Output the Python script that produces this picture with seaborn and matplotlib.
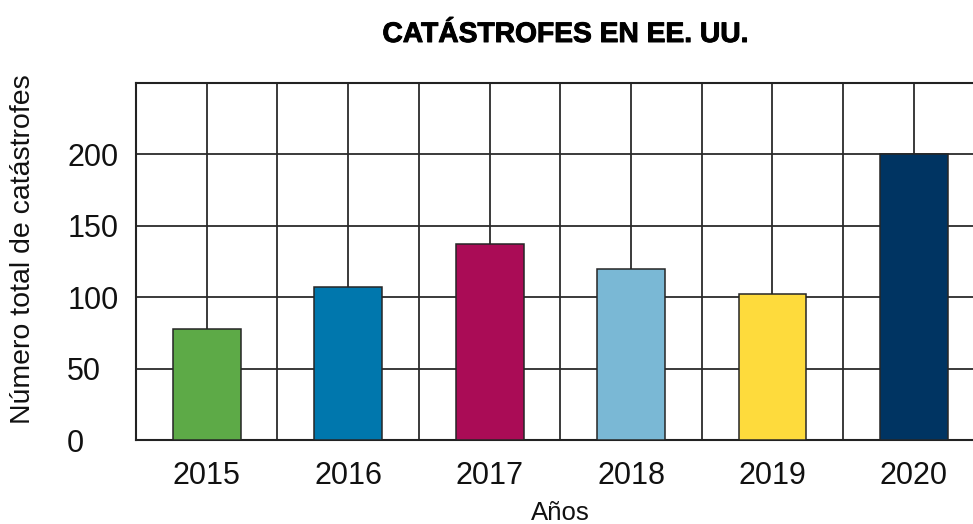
import matplotlib
matplotlib.use("Agg")
import matplotlib.pyplot as plt
import matplotlib.patheffects as pe
from matplotlib.ticker import MultipleLocator
import seaborn as sns
import pandas as pd

# Data
years = ["2015", "2016", "2017", "2018", "2019", "2020"]
disasters = [78, 107, 137, 120, 102, 200]
bar_colors = ["#5DAA47", "#0077AD", "#AA0C56", "#7AB8D5", "#FEDB3C", "#003462"]
y_ticks = [0, 50, 100, 150, 200]

title = "CATÁSTROFES EN EE. UU."
x_label = "Años"
y_label = "Número total de catástrofes"

df = pd.DataFrame({"year": years, "count": disasters})

sns.set_theme(style="white")
plt.rcParams["font.family"] = ["Liberation Sans", "DejaVu Sans"]

fig = plt.figure(figsize=(9.73, 5.24), dpi=100)
W, H = 973, 524
left, right_px = 136, 984.6
top, bottom = 82.7, 440.3
ax_w, ax_h = right_px - left, bottom - top
ax = fig.add_axes([left / W, 1 - bottom / H, ax_w / W, ax_h / H])

sns.barplot(data=df, x="year", y="count", hue="year", palette=bar_colors,
            saturation=1, width=0.48, edgecolor="#262626", linewidth=1.1,
            legend=False, ax=ax, zorder=3)

ax.set_xlim(-0.5, 5.5)
ax.set_ylim(0, 250)
ax.set_yticks(y_ticks)
ax.yaxis.set_minor_locator(MultipleLocator(50))
ax.xaxis.set_minor_locator(MultipleLocator(0.5))
ax.grid(True, which="both", color="#2b2b2b", linewidth=1.3, zorder=0)
ax.set_axisbelow(True)

for sp in ax.spines.values():
    sp.set_color("#222222")
    sp.set_linewidth(1.5)
    sp.set_visible(True)

ax.tick_params(axis="both", which="both", length=0, labelsize=22, colors="#111111")
ax.tick_params(axis="x", pad=15)
ax.tick_params(axis="y", pad=49.5)
for lab in ax.get_yticklabels():
    lab.set_horizontalalignment("left")

ax.set_xlabel(x_label, fontsize=18.5, color="#111111")
ax.xaxis.label.set_verticalalignment("baseline")
ax.xaxis.set_label_coords(0.5, (bottom - 520.5) / ax_h)

ax.set_ylabel(y_label, fontsize=20.5, color="#111111")
ax.yaxis.label.set_verticalalignment("center")
ax.yaxis.set_label_coords((23 - left) / ax_w, (bottom - 249) / ax_h)

fig.text(566 / W, 1 - 35 / H, title, ha="center", va="center",
         fontsize=20.3, fontweight="bold", color="#000000",
         path_effects=[pe.withStroke(linewidth=0.7, foreground="#000000")])

fig.savefig("out.png", dpi=100)
